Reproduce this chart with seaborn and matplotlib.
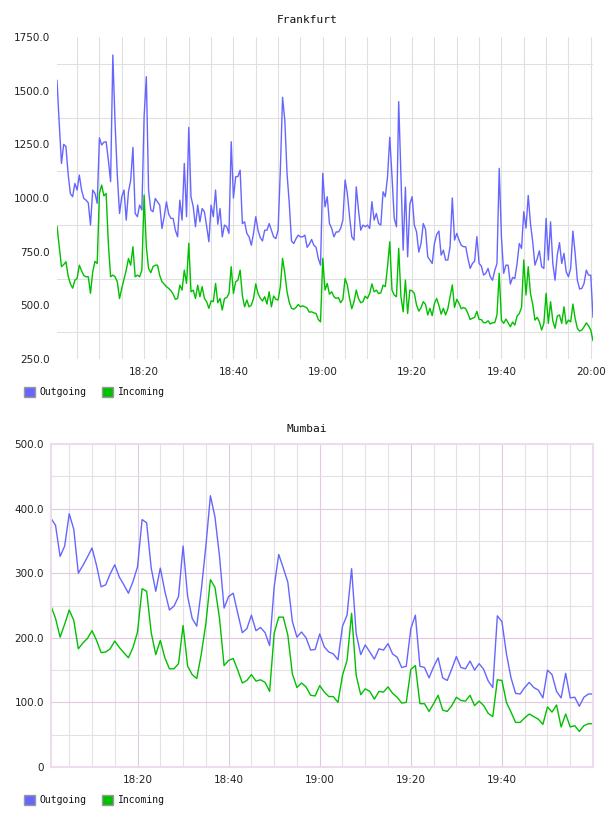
import pandas as pd
import seaborn as sns
import matplotlib
matplotlib.use("Agg")
import matplotlib.pyplot as plt
import matplotlib.dates as mdates
from matplotlib.patches import Rectangle
from matplotlib.ticker import FixedLocator, FuncFormatter

# Frankfurt, 30 s samples from 18:00:30 to 20:00:30
fra_outgoing = [
    1549, 1347, 1161, 1250, 1240, 1110, 1020, 1006, 1068, 1037,
    1107, 1037, 998, 990, 978, 874, 1037, 1021, 975, 1280,
    1247, 1260, 1262, 1177, 1076, 1666, 1350, 1107, 928, 1006,
    1037, 897, 1029, 1083, 1236, 928, 913, 967, 944, 1378,
    1565, 1037, 944, 936, 998, 982, 967, 858, 913, 982,
    925, 905, 905, 850, 819, 990, 897, 1161, 913, 1329,
    1006, 959, 866, 967, 889, 951, 936, 869, 796, 967,
    913, 1037, 878, 951, 819, 874, 866, 835, 1262, 1000,
    1099, 1100, 1130, 881, 889, 835, 819, 780, 835, 913,
    850, 816, 800, 850, 850, 881, 850, 819, 811, 850,
    1130, 1469, 1363, 1114, 975, 800, 788, 810, 827, 819,
    819, 827, 770, 785, 807, 780, 770, 718, 687, 1115,
    959, 1006, 881, 858, 819, 842, 842, 858, 897, 1084,
    1021, 913, 819, 804, 1052, 944, 850, 874, 866, 874,
    858, 983, 897, 928, 881, 874, 1029, 1006, 1099, 1283,
    1100, 905, 866, 1449, 1100, 757, 1050, 726, 972, 1006,
    874, 842, 748, 788, 881, 855, 726, 711, 695, 788,
    830, 846, 734, 757, 711, 711, 773, 1000, 804, 835,
    804, 780, 773, 773, 718, 672, 695, 706, 820, 695,
    683, 641, 649, 672, 633, 617, 661, 695, 1138, 819,
    649, 687, 687, 599, 630, 625, 695, 788, 765, 936,
    860, 1012, 881, 796, 687, 718, 754, 680, 672, 905,
    711, 889, 695, 617, 734, 792, 695, 742, 656, 633,
    672, 846, 742, 617, 576, 579, 602, 664, 641, 640,
    444,
]
fra_incoming = [
    869, 773, 680, 690, 703, 636, 600, 580, 617, 625,
    687, 661, 639, 633, 633, 556, 656, 705, 695, 1022,
    1060, 1010, 1021, 788, 633, 641, 633, 610, 532, 579,
    621, 664, 718, 687, 773, 633, 641, 633, 664, 1014,
    773, 672, 652, 680, 687, 687, 639, 610, 599, 587,
    579, 568, 552, 528, 532, 594, 571, 664, 602, 789,
    563, 571, 532, 594, 540, 587, 532, 517, 486, 521,
    517, 602, 512, 532, 478, 532, 536, 555, 680, 555,
    610, 617, 664, 545, 493, 525, 493, 501, 532, 600,
    555, 534, 520, 540, 506, 563, 493, 543, 528, 525,
    587, 719, 649, 563, 514, 486, 482, 490, 504, 493,
    498, 493, 487, 468, 470, 465, 462, 434, 423, 719,
    571, 602, 552, 563, 540, 532, 536, 512, 528, 625,
    594, 532, 484, 517, 571, 532, 512, 517, 543, 532,
    555, 600, 563, 571, 555, 558, 594, 587, 680, 796,
    571, 548, 540, 766, 540, 470, 618, 462, 571, 568,
    555, 501, 473, 489, 517, 505, 455, 486, 452, 509,
    532, 500, 459, 486, 455, 484, 540, 595, 490, 528,
    509, 484, 490, 484, 462, 434, 440, 444, 472, 434,
    434, 419, 419, 428, 413, 419, 419, 455, 649, 431,
    416, 436, 419, 400, 422, 408, 450, 462, 490, 711,
    548, 680, 555, 506, 431, 444, 423, 385, 416, 556,
    416, 517, 428, 393, 450, 455, 416, 493, 413, 431,
    423, 506, 439, 393, 380, 385, 400, 418, 405, 385,
    335,
]

# Mumbai, 1 min samples from 18:01 to 20:00
mum_outgoing = [
    385, 374, 326, 342, 392, 368, 300, 312, 325, 339,
    312, 279, 282, 299, 313, 294, 282, 269, 287, 310,
    383, 378, 308, 272, 308, 272, 243, 249, 264, 342,
    264, 230, 218, 274, 342, 420, 387, 326, 246, 264,
    269, 238, 208, 214, 235, 211, 216, 208, 188, 279,
    329, 308, 286, 225, 201, 209, 200, 181, 182, 206,
    186, 178, 175, 166, 218, 235, 307, 207, 174, 189,
    178, 167, 183, 181, 191, 175, 170, 154, 156, 214,
    235, 156, 154, 138, 155, 169, 138, 134, 152, 171,
    154, 152, 164, 150, 160, 151, 133, 123, 234, 225,
    175, 138, 114, 113, 123, 131, 123, 119, 107, 150,
    143, 117, 107, 145, 107, 108, 94, 108, 113, 113,
]
mum_incoming = [
    249, 230, 201, 221, 243, 227, 183, 192, 199, 211,
    196, 177, 178, 183, 195, 185, 177, 169, 185, 209,
    276, 272, 208, 174, 196, 169, 152, 152, 160, 219,
    156, 143, 137, 175, 222, 290, 278, 230, 157, 165,
    168, 150, 130, 134, 143, 133, 135, 131, 117, 207,
    232, 232, 204, 144, 123, 130, 124, 111, 110, 126,
    116, 109, 109, 100, 142, 165, 238, 142, 112, 121,
    117, 105, 117, 116, 124, 114, 108, 99, 100, 151,
    157, 98, 98, 86, 98, 111, 88, 86, 95, 108,
    103, 102, 111, 95, 102, 95, 83, 78, 135, 134,
    100, 85, 69, 69, 76, 82, 78, 74, 66, 93,
    85, 96, 62, 82, 62, 64, 55, 64, 67, 67,
]

series_names = ["Outgoing", "Incoming"]
colors = {"Outgoing": "#6666ff", "Incoming": "#00c000"}

fra_ticks = [250, 500, 750, 1000, 1250, 1500, 1750]
mum_ticks = [0, 100, 200, 300, 400, 500]

W, H = 608, 816


def long_frame(times, outgoing, incoming):
    df = pd.DataFrame({"time": times, "Outgoing": outgoing, "Incoming": incoming})
    return df.melt(id_vars="time", var_name="series", value_name="value")


def px_axes(fig, left, top, right, bottom):
    return fig.add_axes([left / W, 1 - bottom / H, (right - left) / W, (bottom - top) / H])


def draw_legend(fig, y):
    for name, x_box, x_txt in [("Outgoing", 24, 39), ("Incoming", 102, 118)]:
        fig.add_artist(Rectangle((x_box / W, 1 - (y + 5) / H), 11 / W, 10 / H,
                                 transform=fig.transFigure, facecolor=colors[name],
                                 edgecolor="#999999", linewidth=1.0))
        fig.text(x_txt / W, 1 - y / H, name, ha="left", va="center",
                 fontsize=7, family="DejaVu Sans Mono", color="#111111")


sns.set_style("white")
plt.rcParams["font.family"] = ["DejaVu Sans"]

fig = plt.figure(figsize=(W / 100, H / 100), dpi=100)

# ---- Frankfurt
fra_times = pd.date_range("2024-01-01 18:00:30", periods=len(fra_outgoing), freq="30s")
ax1 = px_axes(fig, 57, 37, 593, 359)
sns.lineplot(data=long_frame(fra_times, fra_outgoing, fra_incoming), x="time", y="value",
             hue="series", hue_order=series_names, palette=colors, linewidth=1.0,
             legend=False, ax=ax1)
ax1.set_xlim(fra_times[0], fra_times[-1])
ax1.set_ylim(250, 1750)
ax1.yaxis.set_major_locator(FixedLocator(fra_ticks))
ax1.yaxis.set_major_formatter(FuncFormatter(lambda v, p: f"{v:.1f}"))
ax1.yaxis.set_minor_locator(FixedLocator([375, 625, 875, 1125, 1375, 1625]))
ax1.xaxis.set_major_locator(mdates.MinuteLocator(byminute=[0, 20, 40]))
ax1.xaxis.set_major_formatter(mdates.DateFormatter("%H:%M"))
ax1.xaxis.set_minor_locator(mdates.MinuteLocator(byminute=range(0, 60, 5)))
ax1.grid(False)
ax1.grid(True, which="minor", axis="y", color="#e0e0e0", linewidth=0.8)
ax1.grid(True, which="both", axis="x", color="#e0e0e0", linewidth=0.8)
for s in ax1.spines.values():
    s.set_visible(False)
ax1.set_axisbelow(True)
ax1.set_xlabel("")
ax1.set_ylabel("")
ax1.tick_params(which="both", length=0, labelsize=7.5, labelcolor="#222222")
ax1.tick_params(axis="y", pad=5)
ax1.tick_params(axis="x", pad=6)
fig.text(307 / W, 1 - 20 / H, "Frankfurt", ha="center", va="center",
         fontsize=8, family="DejaVu Sans Mono", color="#111111")
draw_legend(fig, 392)

# ---- Mumbai
mum_times = pd.date_range("2024-01-01 18:01", periods=len(mum_outgoing), freq="min")
ax2 = px_axes(fig, 51, 444, 593, 767)
sns.lineplot(data=long_frame(mum_times, mum_outgoing, mum_incoming), x="time", y="value",
             hue="series", hue_order=series_names, palette=colors, linewidth=1.0,
             legend=False, ax=ax2)
ax2.set_xlim(mum_times[0], mum_times[-1])
ax2.set_ylim(0, 500)
ax2.yaxis.set_major_locator(FixedLocator(mum_ticks))
ax2.yaxis.set_major_formatter(FuncFormatter(lambda v, p: "0" if v == 0 else f"{v:.1f}"))
ax2.yaxis.set_minor_locator(FixedLocator([50, 150, 250, 350, 450]))
ax2.xaxis.set_major_locator(mdates.MinuteLocator(byminute=[0, 20, 40]))
ax2.xaxis.set_major_formatter(FuncFormatter(
    lambda v, p: "" if mdates.num2date(v).strftime("%H:%M") == "20:00"
    else mdates.num2date(v).strftime("%H:%M")))
ax2.xaxis.set_minor_locator(mdates.MinuteLocator(byminute=range(0, 60, 5)))
ax2.grid(False)
ax2.grid(True, which="major", color="#e2c9e2", linewidth=0.8)
ax2.grid(True, which="minor", color="#e4e0e4", linewidth=0.8)
for s in ax2.spines.values():
    s.set_color("#ecdcec")
    s.set_linewidth(1.5)
ax2.set_axisbelow(True)
ax2.set_xlabel("")
ax2.set_ylabel("")
ax2.tick_params(which="both", length=0, labelsize=7.5, labelcolor="#222222")
ax2.tick_params(axis="y", pad=5)
ax2.tick_params(axis="x", pad=6)
fig.text(307 / W, 1 - 429 / H, "Mumbai", ha="center", va="center",
         fontsize=8, family="DejaVu Sans Mono", color="#111111")
draw_legend(fig, 800)

fig.savefig("out.png", dpi=100)
